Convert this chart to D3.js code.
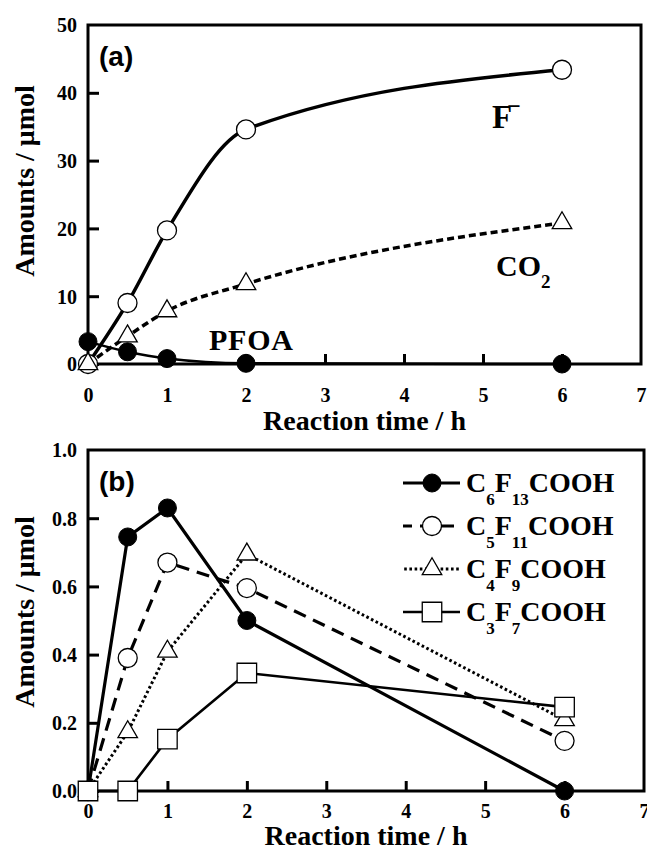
<!DOCTYPE html>
<html>
<head>
<meta charset="utf-8">
<script src="https://cdn.jsdelivr.net/npm/d3@7"></script>
<style>
  html, body { margin: 0; padding: 0; background: #fff; }
  svg { display: block; }
  .serif { font-family: "Liberation Serif", "Times New Roman", serif; font-weight: bold; }
  .sans { font-family: "Liberation Sans", Arial, sans-serif; font-weight: bold; }
</style>
</head>
<body>
<svg id="chart" width="647" height="850"></svg>
<script>
// ---- Panel (a): products of PFOA decomposition ----
const timesA = [0, 0.5, 1, 2, 6];
const fluoride = [0, 9, 19.7, 34.6, 43.4];
const co2 = [0, 4.1, 7.8, 11.8, 20.8];
const pfoa = [3.3, 1.8, 0.8, 0.1, 0];
const yTicksA = [0, 10, 20, 30, 40, 50];

// ---- Panel (b): shorter-chain perfluorocarboxylic acids ----
const timesB = [0, 0.5, 1, 2, 6];
const c6 = [0, 0.745, 0.83, 0.5, 0];
const c5 = [0, 0.39, 0.67, 0.595, 0.147];
const c4 = [0, 0.173, 0.409, 0.694, 0.208];
const c3 = [0, 0, 0.152, 0.346, 0.246];
const yTicksB = [0, 0.2, 0.4, 0.6, 0.8, 1.0];

const xTicks = [0, 1, 2, 3, 4, 5, 6, 7];
const xTitle = "Reaction time / h";
const yTitle = "Amounts / \u03bcmol";

const svg = d3.select("#chart");

function drawMarker(g, kind, x, y) {
  if (kind === "filled") {
    g.append("circle").attr("cx", x).attr("cy", y).attr("r", 9)
      .attr("fill", "#000").attr("stroke", "#000");
  } else if (kind === "circle") {
    g.append("circle").attr("cx", x).attr("cy", y).attr("r", 9.5)
      .attr("fill", "#fff").attr("stroke", "#000").attr("stroke-width", 1.3);
  } else if (kind === "triangle") {
    g.append("path").attr("d", d3.symbol(d3.symbolTriangle, 165)())
      .attr("transform", `translate(${x},${y})`)
      .attr("fill", "#fff").attr("stroke", "#000").attr("stroke-width", 1.3);
  } else if (kind === "square") {
    g.append("path").attr("d", d3.symbol(d3.symbolSquare, 380)())
      .attr("transform", `translate(${x},${y})`)
      .attr("fill", "#fff").attr("stroke", "#000").attr("stroke-width", 1.3);
  }
}

function drawFrame(cfg) {
  const { x, y, top, bottom, left, right, yTicks, yFmt, xLabelDy, titleY, yTitleY, tag } = cfg;
  const g = svg.append("g");

  // inward-pointing ticks on left and bottom axes
  const yAxis = d3.axisLeft(y).tickValues(yTicks).tickFormat(yFmt)
    .tickSizeInner(-11).tickSizeOuter(0).tickPadding(11);
  const ya = g.append("g").attr("transform", `translate(${left},0)`).call(yAxis);
  ya.select(".domain").remove();
  ya.selectAll(".tick line").attr("stroke", "#000").attr("stroke-width", 3);
  ya.selectAll(".tick text").attr("class", "serif").attr("font-size", 20)
    .attr("fill", "#000").attr("dy", "0.34em");
  // no tick mark at the top end (frame corner)
  ya.selectAll(".tick").filter(d => d === yTicks[yTicks.length - 1]).select("line").remove();

  const xAxis = d3.axisBottom(x).tickValues(xTicks).tickFormat(d3.format("d"))
    .tickSizeInner(-10).tickSizeOuter(0).tickPadding(0);
  const xa = g.append("g").attr("transform", `translate(0,${bottom})`).call(xAxis);
  xa.select(".domain").remove();
  xa.selectAll(".tick line").attr("stroke", "#000").attr("stroke-width", 3);
  xa.selectAll(".tick").filter(d => d === 0 || d === 7).select("line").remove();
  xa.selectAll(".tick text").attr("class", "serif").attr("font-size", 20)
    .attr("fill", "#000").attr("y", xLabelDy).attr("dy", 0);

  // frame
  g.append("rect").attr("x", left).attr("y", top)
    .attr("width", right - left).attr("height", bottom - top)
    .attr("fill", "none").attr("stroke", "#000").attr("stroke-width", 3);

  // axis titles
  g.append("text").attr("class", "serif").attr("font-size", 28)
    .attr("x", (left + right) / 2).attr("y", titleY)
    .attr("text-anchor", "middle").text(xTitle);
  g.append("text").attr("class", "serif").attr("font-size", 28)
    .attr("transform", `translate(34,${yTitleY}) rotate(-90)`)
    .attr("text-anchor", "middle").text(yTitle);

  // panel tag
  g.append("text").attr("class", "sans").attr("font-size", 28)
    .attr("x", left + 11).attr("y", top + 41).text(tag);
  return g;
}

// ================= Panel (a) =================
const A = { left: 88, right: 641, top: 25, bottom: 364 };
const xA = d3.scaleLinear().domain([0, 7]).range([A.left, A.right]);
const yA = d3.scaleLinear().domain([0, 50]).range([A.bottom, A.top]);
drawFrame({ x: xA, y: yA, ...A, yTicks: yTicksA, yFmt: d3.format("d"),
  xLabelDy: 38, titleY: 430, yTitleY: 181, tag: "(a)" });

const gA = svg.append("g");
const lineSmooth = d3.line().curve(d3.curveMonotoneX);
const ptsA = arr => timesA.map((t, i) => [xA(t), yA(arr[i])]);

gA.append("path").attr("d", lineSmooth(ptsA(fluoride)))
  .attr("fill", "none").attr("stroke", "#000").attr("stroke-width", 3.5);
gA.append("path").attr("d", lineSmooth(ptsA(co2)))
  .attr("fill", "none").attr("stroke", "#000").attr("stroke-width", 3.5)
  .attr("stroke-dasharray", "7,4");
gA.append("path").attr("d", lineSmooth(ptsA(pfoa)))
  .attr("fill", "none").attr("stroke", "#000").attr("stroke-width", 2.5);

ptsA(pfoa).forEach(p => drawMarker(gA, "filled", p[0], p[1]));
ptsA(fluoride).forEach(p => drawMarker(gA, "circle", p[0], p[1]));
ptsA(co2).forEach(p => drawMarker(gA, "triangle", p[0], p[1]));

// series labels
gA.append("text").attr("class", "serif").attr("font-size", 33)
  .attr("x", 492).attr("y", 128)
  .call(t => { t.append("tspan").text("F");
               t.append("tspan").attr("font-size", 24).attr("dx", -5).attr("dy", -14).text("\u2212"); });
gA.append("text").attr("class", "serif").attr("font-size", 30)
  .attr("x", 496).attr("y", 276)
  .call(t => { t.append("tspan").text("CO");
               t.append("tspan").attr("font-size", 19).attr("dy", 12).text("2"); });
gA.append("text").attr("class", "serif").attr("font-size", 30)
  .attr("x", 209).attr("y", 350).attr("textLength", 84).text("PFOA");

// ================= Panel (b) =================
const B = { left: 88, right: 644, top: 450, bottom: 791 };
const xB = d3.scaleLinear().domain([0, 7]).range([B.left, B.right]);
const yB = d3.scaleLinear().domain([0, 1]).range([B.bottom, B.top]);
drawFrame({ x: xB, y: yB, ...B, yTicks: yTicksB, yFmt: d3.format(".1f"),
  xLabelDy: 27, titleY: 845, yTitleY: 612, tag: "(b)" });

const gB = svg.append("g");
const lineStraight = d3.line();
const ptsB = arr => timesB.map((t, i) => [xB(t), yB(arr[i])]);

const seriesB = [
  { name: ["C", "6", "F", "13", "COOH"], values: c6, marker: "filled", width: 3.2, dash: null },
  { name: ["C", "5", "F", "11", "COOH"], values: c5, marker: "circle", width: 3.2, dash: "13,8" },
  { name: ["C", "4", "F", "9", "COOH"], values: c4, marker: "triangle", width: 3, dash: "2.6,2.6" },
  { name: ["C", "3", "F", "7", "COOH"], values: c3, marker: "square", width: 2.6, dash: null }
];

seriesB.forEach(s => {
  gB.append("path").attr("d", lineStraight(ptsB(s.values)))
    .attr("fill", "none").attr("stroke", "#000").attr("stroke-width", s.width)
    .attr("stroke-dasharray", s.dash);
});
seriesB.forEach(s => {
  ptsB(s.values).forEach(p => drawMarker(gB, s.marker, p[0], p[1]));
});

// legend
const leg = svg.append("g");
seriesB.forEach((s, i) => {
  const ly = 483 + i * 43;
  leg.append("line").attr("x1", 403).attr("x2", 460).attr("y1", ly).attr("y2", ly)
    .attr("stroke", "#000").attr("stroke-width", s.width).attr("stroke-dasharray", s.dash)
    .attr("stroke-dashoffset", s.dash ? 4 : null);
  drawMarker(leg, s.marker, 432, ly);
  const t = leg.append("text").attr("class", "serif").attr("font-size", 28)
    .attr("x", 466).attr("y", ly + 9);
  t.append("tspan").text(s.name[0]);
  t.append("tspan").attr("font-size", 17).attr("dy", 13).text(s.name[1]);
  t.append("tspan").attr("dy", -13).text(s.name[2]);
  t.append("tspan").attr("font-size", 17).attr("dy", 13).text(s.name[3]);
  t.append("tspan").attr("dy", -13).text(s.name[4]);
});
</script>
</body>
</html>
